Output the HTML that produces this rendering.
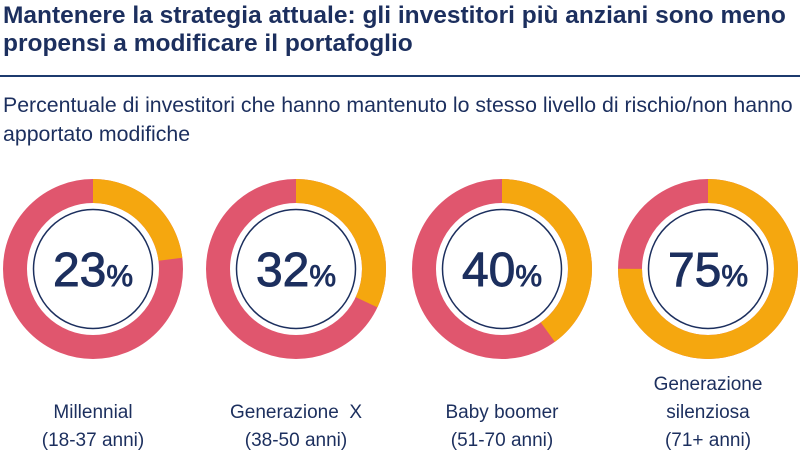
<!DOCTYPE html>
<html><head><meta charset="utf-8"><style>
body{margin:0;width:800px;height:456px;background:#fff;font-family:"Liberation Sans",sans-serif;color:#1c2f5e;position:relative;overflow:hidden}
.t{position:absolute;left:3px;top:2px;font-size:24.5px;font-weight:bold;line-height:28px;white-space:nowrap}
.rule{position:absolute;left:0;top:75px;width:800px;height:1.5px;background:#1c3a6e}
.s{position:absolute;left:3px;top:91px;font-size:21.3px;line-height:29px;color:#1c2f5e;white-space:nowrap}
.l{position:absolute;width:200px;text-align:center;font-size:19px;line-height:28px;top:399px}
</style></head><body>
<div class="t">Mantenere la strategia attuale: gli investitori più anziani sono meno<br>propensi a modificare il portafoglio</div>
<div class="rule"></div>
<div class="s">Percentuale di investitori che hanno mantenuto lo stesso livello di rischio/non hanno<br>apportato modifiche</div>
<svg width="800" height="456" style="position:absolute;left:0;top:0">
<g font-family="Liberation Sans, sans-serif" fill="#1c2f5e" stroke="#1c2f5e" stroke-width="0.9">
<g transform="translate(93,269)">
<circle r="78" fill="none" stroke="#e0566e" stroke-width="24"/>
<circle r="78" fill="none" stroke="#f5a70f" stroke-width="24" stroke-dasharray="112.7 1000" transform="rotate(-90)"/>
<circle r="59.5" fill="#fff" stroke="#1c2f5e" stroke-width="1.5"/>
<text y="17" text-anchor="middle"><tspan font-size="48">23</tspan><tspan font-size="30">%</tspan></text></g>
<g transform="translate(296,269)">
<circle r="78" fill="none" stroke="#e0566e" stroke-width="24"/>
<circle r="78" fill="none" stroke="#f5a70f" stroke-width="24" stroke-dasharray="156.8 1000" transform="rotate(-90)"/>
<circle r="59.5" fill="#fff" stroke="#1c2f5e" stroke-width="1.5"/>
<text y="17" text-anchor="middle"><tspan font-size="48">32</tspan><tspan font-size="30">%</tspan></text></g>
<g transform="translate(502,269)">
<circle r="78" fill="none" stroke="#e0566e" stroke-width="24"/>
<circle r="78" fill="none" stroke="#f5a70f" stroke-width="24" stroke-dasharray="196 1000" transform="rotate(-90)"/>
<circle r="59.5" fill="#fff" stroke="#1c2f5e" stroke-width="1.5"/>
<text y="17" text-anchor="middle"><tspan font-size="48">40</tspan><tspan font-size="30">%</tspan></text></g>
<g transform="translate(708,269)">
<circle r="78" fill="none" stroke="#e0566e" stroke-width="24"/>
<circle r="78" fill="none" stroke="#f5a70f" stroke-width="24" stroke-dasharray="367.6 1000" transform="rotate(-90)"/>
<circle r="59.5" fill="#fff" stroke="#1c2f5e" stroke-width="1.5"/>
<text y="17" text-anchor="middle"><tspan font-size="48">75</tspan><tspan font-size="30">%</tspan></text></g>
</g></svg>
<div class="l" style="left:-7px">Millennial<br>(18-37 anni)</div>
<div class="l" style="left:196px">Generazione&nbsp; X<br>(38-50 anni)</div>
<div class="l" style="left:402px">Baby boomer<br>(51-70 anni)</div>
<div class="l" style="left:608px;top:371px">Generazione<br>silenziosa<br>(71+ anni)</div>
</body></html>
